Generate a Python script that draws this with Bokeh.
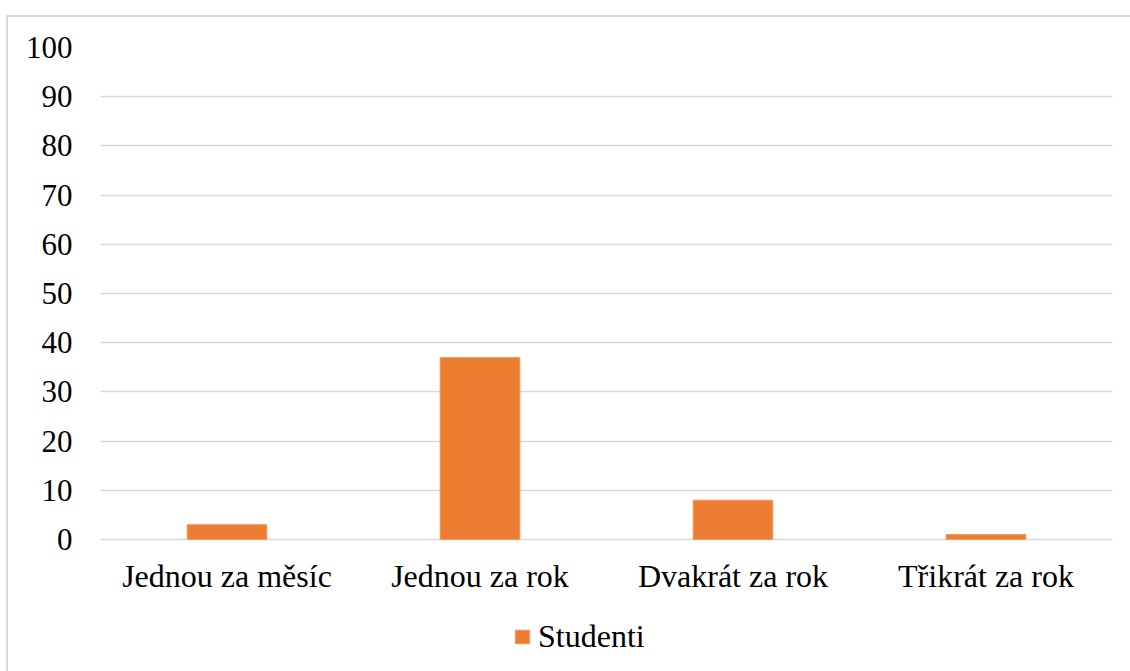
from bokeh.plotting import figure
from bokeh.models import ColumnDataSource, FixedTicker, Legend, LegendItem, Range1d
from bokeh.core.properties import value
from bokeh.embed import file_html
from bokeh.resources import INLINE

categories = ["Jednou za měsíc", "Jednou za rok", "Dvakrát za rok", "Třikrát za rok"]
studenti = [3, 37, 8, 1]
y_ticks = [0, 10, 20, 30, 40, 50, 60, 70, 80, 90, 100]
series_name = "Studenti"

FONT = "Liberation Serif"
ORANGE = "#ED7D31"
GRID = "#D9D9D9"

# layout: plot area 492 px for 0..100, with 132 px of room below the zero line
PX_PER_UNIT = 492 / 100
Y_START = -132 / PX_PER_UNIT

src = ColumnDataSource(dict(cat=categories, val=studenti))

p = figure(x_range=categories, y_range=Range1d(Y_START, 100),
           frame_width=1012, frame_height=624,
           output_backend="svg", toolbar_location=None,
           min_border_left=100, min_border_right=18, min_border_top=47, min_border_bottom=0)
p.outline_line_color = None
p.background_fill_color = None
p.border_fill_color = None
p.styles = {"box-shadow": "inset 0 15px 0 0 white, inset 6px 0 0 0 white, inset 4px 13px 0 4px #D9D9D9"}

r = p.vbar(x="cat", top="val", width=0.315, source=src, fill_color=ORANGE, line_color="#F09A5E", line_width=1)

# category labels under the zero line
p.text(x="cat", y=0, text="cat", source=src, text_font=value(FONT), text_font_size="32px",
       text_color="black", text_align="center", text_baseline="top", y_offset=18)

p.yaxis.ticker = FixedTicker(ticks=y_ticks)
p.yaxis.axis_line_color = None
p.yaxis.major_tick_line_color = None
p.yaxis.minor_tick_line_color = None
p.yaxis.major_label_text_font = FONT
p.yaxis.major_label_text_font_size = "31px"
p.yaxis.major_label_text_color = "black"
p.yaxis.major_label_standoff = 22

p.xaxis.visible = False
p.xgrid.grid_line_color = None
p.ygrid.grid_line_color = GRID
p.ygrid.grid_line_width = 1.5

legend = Legend(items=[LegendItem(label=series_name, renderers=[r])],
                location=(413, 16), orientation="horizontal",
                glyph_width=18, glyph_height=17, label_standoff=7,
                padding=0, margin=0, border_line_color=None, background_fill_alpha=0,
                label_text_font=FONT, label_text_font_size="32px", label_text_color="black")
p.add_layout(legend, "center")

open("out.html", "w").write(file_html(p, INLINE))
